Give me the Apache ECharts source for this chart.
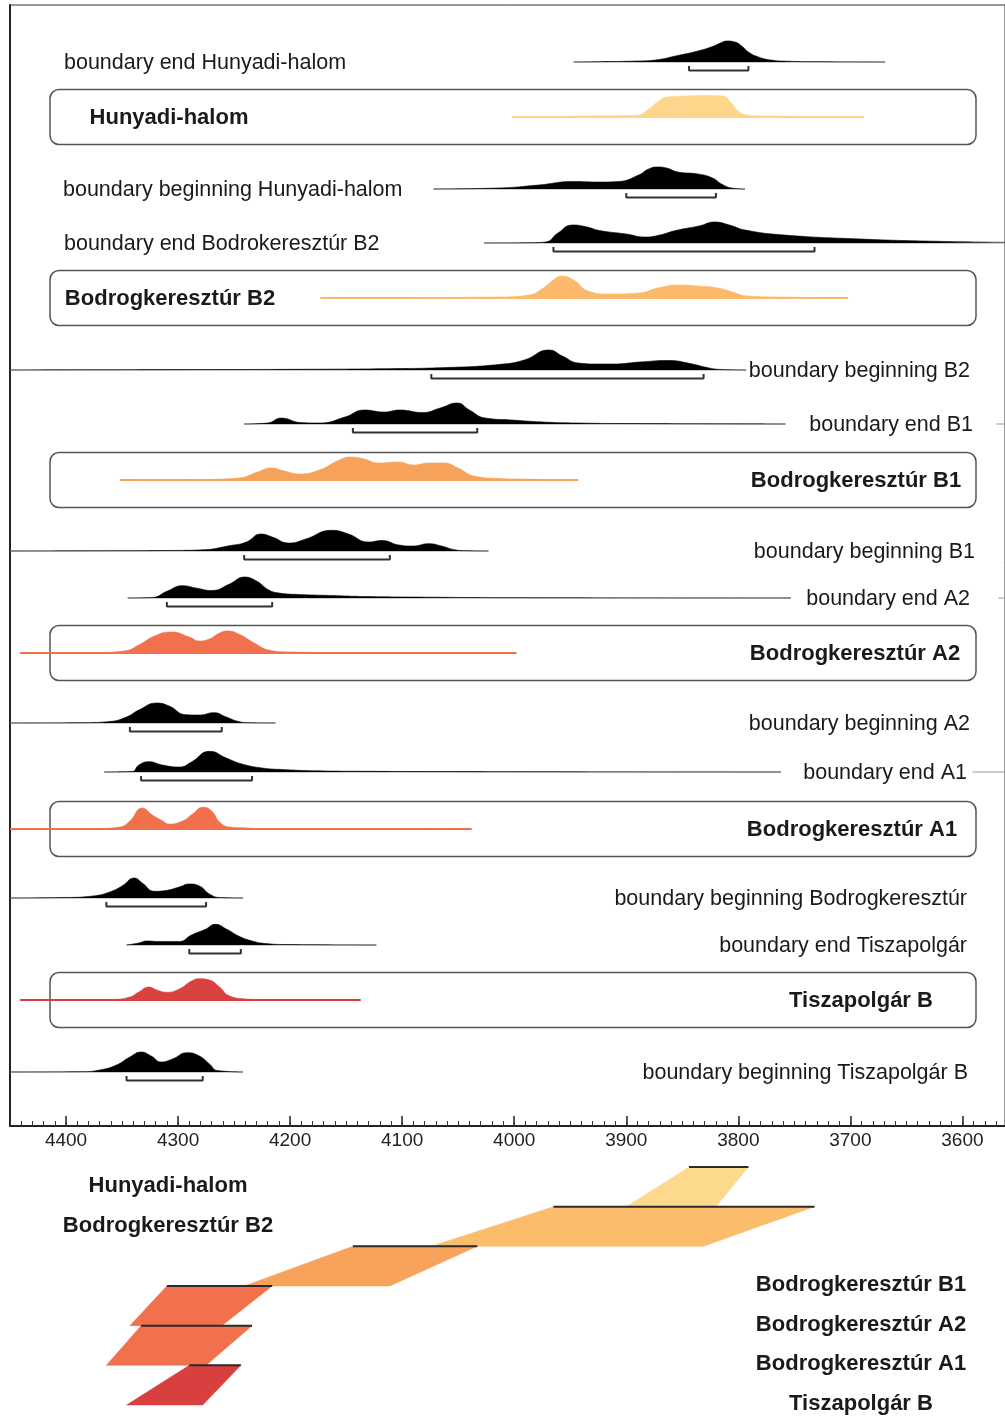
<!DOCTYPE html>
<html>
<head>
<meta charset="utf-8">
<script src="https://cdn.jsdelivr.net/npm/echarts@6/dist/echarts.min.js"></script>
<style>
  html, body { margin: 0; padding: 0; background: #fff; }
  #chart { width: 1005px; height: 1418px; }
</style>
</head>
<body>
<div id="chart"></div>
<script>
// calendar years BC, axis runs from older (left) to younger (right)
const majorTicks = [4400, 4300, 4200, 4100, 4000, 3900, 3800, 3700, 3600]

// posterior densities: [year BC, relative height]
const endHunyadi = [[3947,0],[3925,0.3],[3889,1],[3874,2],[3854,6.5],[3836,11],[3823,15.5],[3816,19],[3810,21],[3803,20],[3797,16],[3791,10],[3782,5],[3771,2],[3757,0.8],[3730,0.3],[3669,0]]
const hunyadi = [[4002,0],[3961,0.5],[3925,1.2],[3900,1.5],[3889,2],[3880,8],[3871,16],[3864,20],[3845,21],[3827,21.5],[3814,21],[3807,15],[3801,7],[3794,2.5],[3782,1.2],[3756,0.8],[3688,0]]
const beginHunyadi = [[4072,0],[4014,1],[3978,4],[3947,7.5],[3925,7],[3907,7.5],[3889,14],[3880,20],[3872,22],[3864,21],[3854,17],[3836,15],[3823,11],[3815,5],[3805,0.8],[3794,0]]
const endB2 = [[4027,0],[3985,0.3],[3972,1],[3961,10],[3948,18],[3935,16],[3924,12.5],[3900,9],[3883,6],[3870,8],[3856,12.5],[3835,17],[3821,21],[3808,18],[3794,13],[3759,8],[3691,4],[3622,1.7],[3562,0.7]]
const phaseB2 = [[4173,0],[4085,0.5],[4014,1],[3987,3],[3974,10],[3965,18],[3958,22],[3947,18],[3934,7],[3916,4],[3889,5],[3872,10],[3854,13],[3836,12],[3818,10],[3805,6],[3792,2],[3765,1],[3702,0]]
const beginB2 = [[4450,0],[4370,0.2],[4281,0.4],[4192,0.7],[4116,1.3],[4060,2.5],[4014,5.5],[3991,10],[3969,20],[3957,14],[3943,7],[3925,6],[3912,6],[3888,8],[3862,9.5],[3843,6.5],[3826,2],[3815,0.5],[3793,0]]
const endB1 = [[4241,0],[4220,1],[4208,6],[4191,1.5],[4174,1],[4151,7],[4134,14],[4116,12],[4102,14],[4082,11.5],[4066,16],[4051,21],[4040,14],[4026,6],[4002,4],[3974,2],[3945,1],[3888,0.4],[3758,0]]
const phaseB1 = [[4352,0],[4281,0.5],[4246,2],[4229,8],[4217,12],[4205,9],[4192,6],[4174,10],[4156,20],[4146,23],[4134,21],[4121,17],[4103,18],[4090,15],[4076,17],[4063,17],[4050,12],[4036,4],[4014,1.5],[3987,0.8],[3943,0]]
const beginB1 = [[4450,0],[4370,0.2],[4311,0.5],[4281,1],[4252,5.7],[4239,9],[4226,17],[4216,14],[4201,8],[4186,12],[4163,20.7],[4148,17],[4130,9],[4118,10.5],[4103,6],[4091,5],[4076,7.3],[4065,5],[4052,1],[4043,0.3],[4023,0]]
const endA2 = [[4345,0],[4323,0.5],[4310,6.7],[4296,12.3],[4284,10],[4270,7.5],[4254,14],[4241,21],[4230,17],[4219,8],[4210,5],[4192,3.5],[4163,2.5],[4133,1.5],[4074,0.8],[3996,0.3],[3753,0]]
const phaseA2 = [[4441,0],[4370,0.5],[4348,2],[4335,8],[4321,17],[4306,21],[4290,16],[4281,12],[4272,14],[4263,20],[4256,22],[4246,19],[4232,10],[4219,3],[4201,1],[4165,0.5],[3998,0]]
const beginA2 = [[4450,0],[4385,0.3],[4361,1.5],[4346,6],[4335,13],[4319,20],[4308,17],[4293,8.3],[4281,8],[4268,10.3],[4257,6],[4246,1.5],[4237,0.3],[4213,0]]
const endA1 = [[4366,0],[4341,0.5],[4335,7],[4326,10.3],[4314,7],[4299,5],[4288,10],[4272,20.7],[4257,14],[4243,8],[4225,4],[4207,2.5],[4177,1.2],[4133,0.7],[4014,0.3],[3762,0]]
const phaseA1 = [[4450,0],[4370,0.5],[4352,2],[4343,8],[4332,21],[4323,14],[4314,8.3],[4308,5],[4296,8],[4287,15],[4278,21.7],[4270,18],[4263,7],[4254,2],[4239,1],[4230,0.5],[4038,0]]
const beginBk = [[4450,0],[4400,0.5],[4376,2],[4361,6],[4350,12],[4339,20],[4332,15],[4321,6.7],[4311,7.5],[4299,11],[4290,14],[4281,12],[4272,4],[4263,0.5],[4242,0]]
const endTp = [[4346,0],[4335,2],[4328,4],[4317,3.5],[4299,3.5],[4288,10],[4275,16],[4267,20.7],[4257,16],[4246,9],[4234,4],[4222,1.5],[4204,0.5],[4123,0]]
const phaseTp = [[4441,0],[4359,0.5],[4343,3],[4335,8],[4326,13],[4319,10],[4310,7.7],[4299,11],[4288,19],[4281,21.3],[4272,20],[4263,13],[4254,4],[4239,1],[4230,0.5],[4137,0]]
const beginTp = [[4450,0],[4385,0.3],[4370,2],[4355,7],[4343,15],[4333,20],[4324,16],[4315,10],[4305,13],[4292,19.3],[4281,16],[4272,8],[4265,1.5],[4242,0]]

// 68.2% ranges of the boundaries
const hpdEndHunyadi = [3844, 3791]
const hpdBeginHunyadi = [3900, 3820]
const hpdEndB2 = [3965, 3732]
const hpdBeginB2 = [4074, 3831]
const hpdEndB1 = [4144, 4033]
const hpdBeginB1 = [4241, 4111]
const hpdEndA2 = [4310, 4216]
const hpdBeginA2 = [4343, 4261]
const hpdEndA1 = [4333, 4234]
const hpdBeginBk = [4364, 4275]
const hpdEndTp = [4290, 4244]
const hpdBeginTp = [4346, 4278]

const rowNames = [
  'boundary end Hunyadi-halom', 'Hunyadi-halom', 'boundary beginning Hunyadi-halom',
  'boundary end Bodrokeresztúr B2', 'Bodrogkeresztúr B2', 'boundary beginning B2',
  'boundary end B1', 'Bodrogkeresztúr B1', 'boundary beginning B1',
  'boundary end A2', 'Bodrogkeresztúr A2', 'boundary beginning A2',
  'boundary end A1', 'Bodrogkeresztúr A1', 'boundary beginning Bodrogkeresztúr',
  'boundary end Tiszapolgár', 'Tiszapolgár B', 'boundary beginning Tiszapolgár B'
]
const rowDensities = [
  endHunyadi, hunyadi, beginHunyadi, endB2, phaseB2, beginB2, endB1, phaseB1, beginB1,
  endA2, phaseA2, beginA2, endA1, phaseA1, beginBk, endTp, phaseTp, beginTp
]
const rowRanges = [
  hpdEndHunyadi, null, hpdBeginHunyadi, hpdEndB2, null, hpdBeginB2, hpdEndB1, null, hpdBeginB1,
  hpdEndA2, null, hpdBeginA2, hpdEndA1, null, hpdBeginBk, hpdEndTp, null, hpdBeginTp
]
// short stub of the rule beyond the label on the right
const rowTails = [null, null, null, null, null, null, [3570, 3562], null, null, [3568, 3562], null, null, [3591, 3562], null, null, null, null, null]

// phases for the lower diagram: [end range, beginning range]
const phaseNames = ['Hunyadi-halom', 'Bodrogkeresztúr B2', 'Bodrogkeresztúr B1', 'Bodrogkeresztúr A2', 'Bodrogkeresztúr A1', 'Tiszapolgár B']
const phaseSpans = [
  [hpdEndHunyadi, hpdBeginHunyadi], [hpdEndB2, hpdBeginB2], [hpdEndB1, hpdBeginB1],
  [hpdEndA2, hpdBeginA2], [hpdEndA1, hpdBeginBk], [hpdEndTp, hpdBeginTp]
]

// ---- layout and styling ----
const AX_MIN = 3562, AX_MAX = 4450
const rowY = [62, 117, 189, 243, 298, 370, 424, 480, 551, 598, 653, 723, 772, 829, 898, 945, 1000, 1072]
const rowFill = ['#000', '#fdd68c', '#000', '#000', '#fbba6b', '#000', '#000', '#f7a25b', '#000',
  '#000', '#f1714d', '#000', '#000', '#f0704c', '#000', '#000', '#d94141', '#000']
const rowLabelPos = [
  ['left', 64], ['center', 169], ['left', 63], ['left', 64], ['center', 170], ['right', 970],
  ['right', 973], ['center', 856], ['right', 975], ['right', 970], ['center', 855], ['right', 970],
  ['right', 967], ['center', 852], ['right', 967], ['right', 967], ['center', 861], ['right', 968]
]
const polyFill = ['#fdd98e', '#fbbc6c', '#f7a35c', '#f0714c', '#f0714c', '#d83f3f']
const FONT = '"Liberation Sans", Arial, sans-serif'

const minorTicks = []
for (let y = 4450; y >= 3570; y -= 10) minorTicks.push(y)

const grids = [], xAxes = [], yAxes = [], series = [], graphics = []

// main frame with the time axis
grids.push({ left: 10, right: -2, top: 5, bottom: 292, show: true, borderColor: '#333', borderWidth: 1 })
xAxes.push({
  gridIndex: 0, type: 'value', min: AX_MIN, max: AX_MAX, inverse: true, position: 'bottom',
  axisLine: { show: true, lineStyle: { color: '#222', width: 2 } },
  axisTick: { show: true, inside: true, length: 10, customValues: majorTicks, lineStyle: { color: '#222', width: 1.5 } },
  axisLabel: {
    show: true, customValues: majorTicks, color: '#222', fontSize: 19, fontFamily: FONT, margin: 5,
    formatter: (v) => String(v)
  },
  splitLine: { show: false }
})
xAxes.push({
  gridIndex: 0, type: 'value', min: AX_MIN, max: AX_MAX, inverse: true, position: 'bottom',
  axisLine: { show: false },
  axisTick: { show: true, inside: true, length: 5, customValues: minorTicks, lineStyle: { color: '#333', width: 1 } },
  axisLabel: { show: false }, splitLine: { show: false }
})
yAxes.push({
  gridIndex: 0, type: 'value', min: 0, max: 1,
  axisLine: { show: true, lineStyle: { color: '#222', width: 2 } },
  axisTick: { show: false }, axisLabel: { show: false }, splitLine: { show: false }
})

rowNames.forEach((name, i) => {
  const gi = grids.length
  const xi = xAxes.length
  const yi = yAxes.length
  grids.push({ left: 10, right: -2, top: rowY[i] - 30, height: 42 })
  xAxes.push({ gridIndex: gi, type: 'value', min: AX_MIN, max: AX_MAX, inverse: true, show: false })
  yAxes.push({ gridIndex: gi, type: 'value', min: -12, max: 30, show: false })
  const d = rowDensities[i]
  const fill = rowFill[i]
  const isPhase = fill !== '#000'
  const rule = { color: isPhase ? fill : '#9a9a9a', width: isPhase ? 2 : 1.2 }
  series.push({
    type: 'line', xAxisIndex: xi, yAxisIndex: yi, silent: true, symbol: 'none', z: 2,
    data: [[d[0][0], 0], [d[d.length - 1][0], 0]], lineStyle: rule
  })
  if (rowTails[i]) {
    series.push({
      type: 'line', xAxisIndex: xi, yAxisIndex: yi, silent: true, symbol: 'none', z: 2,
      data: rowTails[i].map((x) => [x, 0]), lineStyle: rule
    })
  }
  series.push({
    type: 'line', xAxisIndex: xi, yAxisIndex: yi, silent: true, symbol: 'none', z: 3,
    data: d, smooth: 0.5,
    lineStyle: { color: fill, width: 0.6 }, areaStyle: { color: fill, opacity: 1 }
  })
  const r = rowRanges[i]
  if (r) {
    series.push({
      type: 'line', xAxisIndex: xi, yAxisIndex: yi, silent: true, symbol: 'none', z: 4,
      data: [[r[0], -4], [r[0], -8.5], [r[1], -8.5], [r[1], -4]],
      lineStyle: { color: '#333', width: 2 }
    })
  }
  if (isPhase) {
    graphics.push({
      type: 'rect', z: 1, silent: true,
      shape: { x: 50, y: rowY[i] - 27.5, width: 926, height: 55, r: 9 },
      style: { fill: 'none', stroke: '#555', lineWidth: 1.5 }
    })
  }
  const [align, lx] = rowLabelPos[i]
  graphics.push({
    type: 'text', z: 10, silent: true, x: lx, y: rowY[i] + 1,
    style: {
      text: name, fill: '#1a1a1a',
      font: isPhase ? 'bold 22px ' + FONT : '21.5px ' + FONT,
      textAlign: align, align: align, textVerticalAlign: 'middle', verticalAlign: 'middle'
    }
  })
})

// lower diagram: each phase as a slab between its beginning and end ranges
const pg = grids.length
const pxi = xAxes.length
const pyi = yAxes.length
grids.push({ left: 10, right: -2, top: 1167, height: 238 })
xAxes.push({ gridIndex: pg, type: 'value', min: AX_MIN, max: AX_MAX, inverse: true, show: false })
yAxes.push({ gridIndex: pg, type: 'value', min: 0, max: 6, inverse: true, show: false })
series.push({
  type: 'custom', xAxisIndex: pxi, yAxisIndex: pyi, silent: true, z: 3,
  data: phaseSpans.map((s, i) => [s[0][0], s[0][1], s[1][0], s[1][1], i]),
  encode: { x: [0, 1, 2, 3], y: 4 },
  renderItem: (params, api) => {
    const i = api.value(4)
    const p1 = api.coord([api.value(0), i])
    const p2 = api.coord([api.value(1), i])
    const p3 = api.coord([api.value(3), i + 1])
    const p4 = api.coord([api.value(2), i + 1])
    return {
      type: 'group',
      children: [
        { type: 'polygon', shape: { points: [p1, p2, p3, p4] }, style: { fill: polyFill[i], stroke: polyFill[i], lineWidth: 0.5 } },
        { type: 'line', shape: { x1: p1[0], y1: p1[1], x2: p2[0], y2: p2[1] }, style: { stroke: '#2a2a2a', lineWidth: 2 } }
      ]
    }
  }
})
const phaseLabelPos = [[168, 1186], [168, 1226], [861, 1285], [861, 1325], [861, 1364], [861, 1404]]
phaseNames.forEach((name, i) => {
  graphics.push({
    type: 'text', z: 10, silent: true, x: phaseLabelPos[i][0], y: phaseLabelPos[i][1],
    style: {
      text: name, fill: '#1a1a1a', font: 'bold 22px ' + FONT,
      textAlign: 'center', align: 'center', textVerticalAlign: 'middle', verticalAlign: 'middle'
    }
  })
})

const chart = echarts.init(document.getElementById('chart'), null, { renderer: 'canvas' })
chart.setOption({
  backgroundColor: '#fff',
  animation: false,
  grid: grids,
  xAxis: xAxes,
  yAxis: yAxes,
  series: series,
  graphic: { elements: graphics }
})
</script>
</body>
</html>
